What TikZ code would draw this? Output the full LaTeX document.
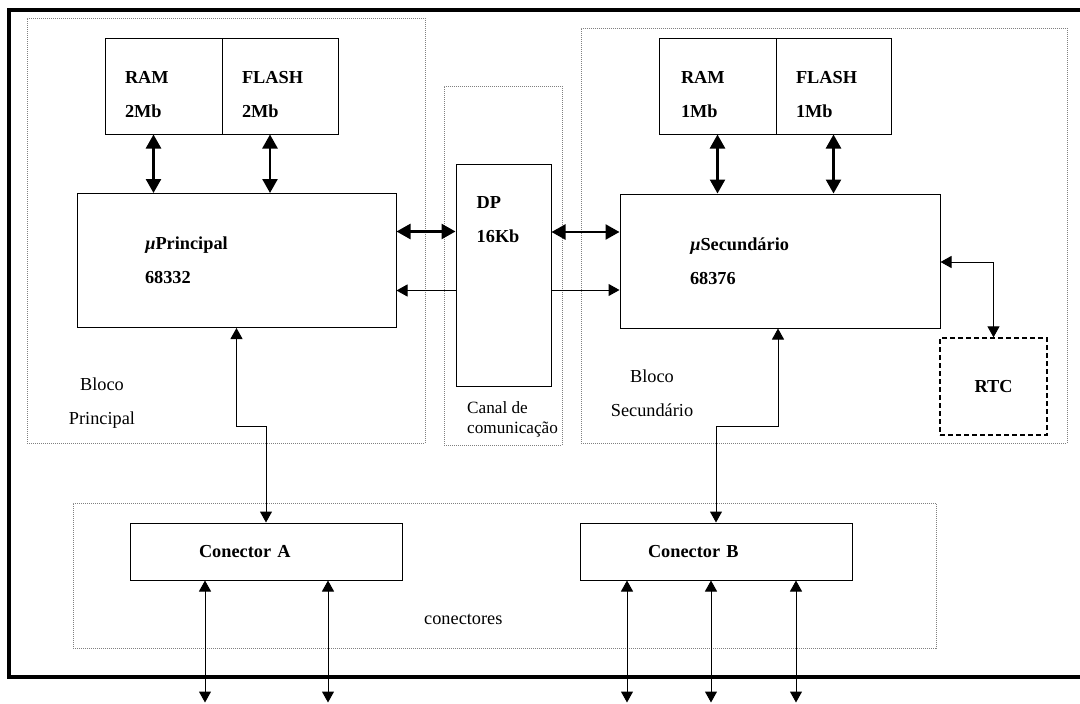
\documentclass[tikz,border=0pt]{standalone}
\usepackage{fontspec}
\setmainfont{Liberation Serif}
\usetikzlibrary{arrows.meta,positioning}

\newcommand\figfont{\fontsize{18.3}{34}\selectfont}

\tikzset{
  box/.style={draw,line width=1pt,font=\figfont\bfseries,align=left,inner ysep=0pt},
  grp/.style={draw=gray,line width=0.9pt,dash pattern=on 1pt off 1pt,inner sep=0pt},
  lbl/.style={font=\figfont,align=center,inner sep=0pt},
  fatarr/.style={line width=2.5pt,{Triangle[length=14pt,width=15pt]}-{Triangle[length=14pt,width=15pt]}},
  thinarr/.style={line width=1pt,>={Triangle[length=11pt,width=12pt]}}
}

\begin{document}
\begin{tikzpicture}[x=1pt,y=-1pt]
\useasboundingbox (0,0) rectangle (1080,704);

% moldura
\draw[line width=3.5pt] (1080,10) -- (9,10) -- (9,677) -- (1080,677);

% blocos pontilhados
\node[grp,minimum width=398pt,minimum height=425pt] (blocoP) at (226,230.5) {};
\node[grp,minimum width=118pt,minimum height=359pt] (canal) at (503,265.5) {};
\node[grp,minimum width=486pt,minimum height=415pt] (blocoS) at (824,235.5) {};
\node[grp,minimum width=863pt,minimum height=145pt] (conectores) at (504.5,575.5) {};

% memorias
\node[box,minimum width=117pt,minimum height=96pt,text width=77pt,inner xsep=20pt] (ramP) at (163.5,86) {\rule{0pt}{29pt}RAM\\2Mb};
\node[box,minimum width=116pt,minimum height=96pt,text width=76pt,inner xsep=20pt] (flashP) at (280,86) {\rule{0pt}{29pt}FLASH\\2Mb};
\node[box,minimum width=117pt,minimum height=96pt,text width=73pt,inner xsep=22pt] (ramS) at (717.5,86) {\rule{0pt}{29pt}RAM\\1Mb};
\node[box,minimum width=115pt,minimum height=96pt,text width=75pt,inner xsep=20pt] (flashS) at (833.5,86) {\rule{0pt}{29pt}FLASH\\1Mb};

% processadores
\node[box,minimum width=319pt,minimum height=134pt,text width=183pt,inner xsep=68pt] (principal) at (236.5,260.5) {\textit{µ}Principal\\68332};
\node[box,minimum width=320pt,minimum height=134pt,text width=180pt,inner xsep=70pt] (secundario) at (780,261) {\textit{µ}Secundário\\68376};
\node[box,minimum width=95pt,minimum height=222pt] (dp) at (503.5,275) {};
\node[lbl,font=\figfont\bfseries,align=left,anchor=north west] (dptxt) at ([xshift=21pt,yshift=-33pt]dp.north west) {DP\\16Kb};
\node[box,align=center,dash pattern=on 5pt off 3pt,line width=1.3pt,minimum width=107pt,minimum height=97pt] (rtc) at (993.5,386.5) {RTC};

% conectores
\node[box,minimum width=272pt,minimum height=57pt,text width=134pt,inner xsep=69pt] (conA) at (266,551.5) {Conector A};
\node[box,minimum width=272pt,minimum height=57pt,text width=136pt,inner xsep=68pt] (conB) at (716,551.5) {Conector B};

% rotulos
\node[lbl] (blocoPtxt) at (102,403) {Bloco\\Principal};
\node[lbl] (blocoStxt) at (652,393) {Bloco\\Secundário};
\node[lbl,font=\fontsize{17.2}{20}\selectfont,align=left,anchor=west] (canaltxt) at (467,419) {Canal de\\comunicação};
\node[lbl,anchor=base west] (conectorestxt) at (424,624) {conectores};

% barramentos
\draw[fatarr] ([xshift=-10pt]ramP.south) -- ([xshift=-10pt]ramP.south |- principal.north);
\draw[fatarr] ([xshift=-10pt]flashP.south) -- ([xshift=-10pt]flashP.south |- principal.north);
\draw[fatarr] (ramS.south) -- (ramS.south |- secundario.north);
\draw[fatarr] (flashS.south) -- (flashS.south |- secundario.north);
\draw[fatarr] ([yshift=29pt]principal.east) -- ([yshift=29pt]principal.east -| dp.west);
\draw[fatarr] ([yshift=29pt]secundario.west -| dp.east) -- ([yshift=29pt]secundario.west);
\draw[thinarr,->] ([yshift=-30pt]principal.east -| dp.west) -- ([yshift=-30pt]principal.east);
\draw[thinarr,->] ([yshift=-29pt]secundario.west -| dp.east) -- ([yshift=-29pt]secundario.west);
\draw[thinarr,<->] ([yshift=-1pt]secundario.east) -| (rtc.north);
\draw[thinarr,<->] (principal.south) -- ++(0,98) -| (conA.north);
\draw[thinarr,<->] ([xshift=-2pt]secundario.south) -- ++(0,98) -| (conB.north);
\foreach \dx in {-61,62}
  \draw[thinarr,<->] ([xshift=\dx pt]conA.south) -- ++(0,122);
\foreach \dx in {-89,-5,80}
  \draw[thinarr,<->] ([xshift=\dx pt]conB.south) -- ++(0,122);
\end{tikzpicture}
\end{document}
